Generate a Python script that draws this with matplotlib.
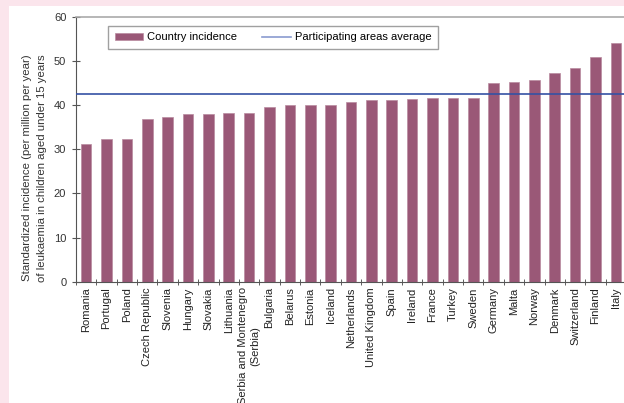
import matplotlib.pyplot as plt
from matplotlib.patches import Rectangle
from matplotlib.lines import Line2D

countries = ["Romania", "Portugal", "Poland", "Czech Republic", "Slovenia", "Hungary",
             "Slovakia", "Lithuania", "Serbia and Montenegro\n(Serbia)", "Bulgaria",
             "Belarus", "Estonia", "Iceland", "Netherlands", "United Kingdom", "Spain",
             "Ireland", "France", "Turkey", "Sweden", "Germany", "Malta", "Norway",
             "Denmark", "Switzerland", "Finland", "Italy"]
incidence = [31.2, 32.2, 32.4, 36.9, 37.3, 38.0, 38.0, 38.2, 38.2, 39.5,
             40.0, 40.0, 40.1, 40.7, 41.1, 41.1, 41.3, 41.5, 41.5, 41.6,
             45.0, 45.2, 45.7, 47.3, 48.4, 50.9, 54.0]
average = 42.5

plt.rcParams["font.family"] = ["Liberation Sans", "DejaVu Sans"]

fig = plt.figure(figsize=(6.24, 4.03), dpi=100, facecolor="#fbe5ec")
# white panel inside the pink frame
fig.patches.append(Rectangle((9 / 624, 0), 1, 1 - 6 / 403, transform=fig.transFigure,
                             facecolor="white", edgecolor="none", zorder=-10))

ax = fig.add_axes([76 / 624, 1 - 281.7 / 403, 550 / 624, 265 / 403])
ax.set_facecolor("white")

x = list(range(len(countries)))
bars = ax.bar(x, incidence, width=0.52, color="#9a5877", edgecolor="#b88aa0", linewidth=0.5,
              label="Country incidence", zorder=2)
ax.axhline(average, color="#3551a4", linewidth=1.2, zorder=3)

ax.set_xlim(-0.5, len(countries) - 0.5)
ax.set_ylim(0, 60)
ax.set_yticks(range(0, 61, 10))
ax.set_xticks(x)
ax.set_xticklabels(countries, rotation=90, fontsize=8, color="#222222")
ax.set_xticks([i - 0.5 for i in range(len(countries) + 1)], minor=True)
ax.tick_params(axis="x", which="major", length=0, pad=4)
ax.tick_params(axis="x", which="minor", length=5, direction="inout", color="#444444")
ax.tick_params(axis="y", length=6, direction="inout", color="#555555", labelsize=8,
               labelcolor="#333333", pad=4)

for side in ["left", "bottom"]:
    ax.spines[side].set_color("#555555")
ax.spines["top"].set_color("#aaaaaa")
ax.spines["top"].set_linewidth(1.2)
ax.spines["right"].set_visible(False)

fig.text(34.5 / 624, 1 - 168 / 403,
         "Standardized incidence (per million per year)\nof leukaemia in children aged under 15 years",
         rotation=90, ha="center", va="center", fontsize=8.2, color="#333333", linespacing=1.7)

avg_handle = Line2D([], [], color="#8a9bd0", linewidth=1.2)
leg = ax.legend([bars, avg_handle], ["Country incidence", "Participating areas average"],
                loc="upper left", bbox_to_anchor=(0.058, 0.966), ncol=2, fontsize=8,
                frameon=True, fancybox=False, edgecolor="#888888", handlelength=2.6,
                handleheight=0.6, columnspacing=2.3, handletextpad=0.3, borderpad=0.6,
                borderaxespad=0)
leg.get_frame().set_linewidth(1.0)

fig.savefig("out.png", dpi=100, facecolor=fig.get_facecolor())
